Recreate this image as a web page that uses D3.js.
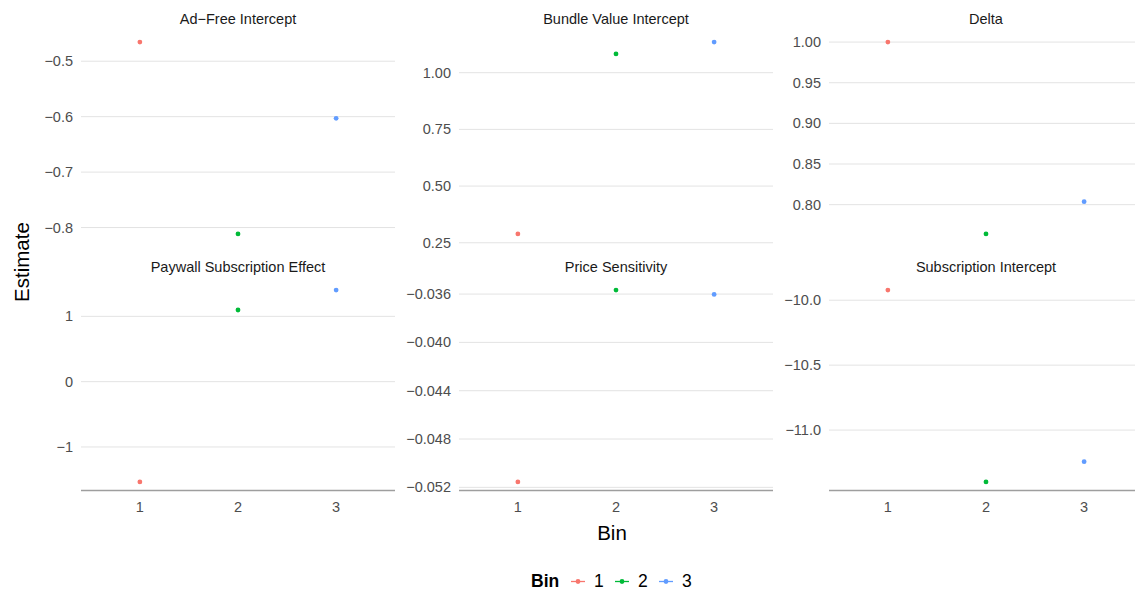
<!DOCTYPE html>
<html>
<head>
<meta charset="utf-8">
<script src="https://cdn.jsdelivr.net/npm/d3@7.9.0/dist/d3.min.js"></script>
<style>
  body { margin: 0; background: #fff; }
  svg { display: block; font-family: "Liberation Sans", Arial, sans-serif; }
</style>
</head>
<body>
<svg id="chart" width="1135" height="593"></svg>
<script>
// ---- data ----
const bins = ['1', '2', '3'];
const binColors = ['#F8766D', '#00BA38', '#619CFF'];

const panelNames = [
  'Ad\u2212Free Intercept', 'Bundle Value Intercept', 'Delta',
  'Paywall Subscription Effect', 'Price Sensitivity', 'Subscription Intercept'
];

const adFreeValues = [-0.4655, -0.8115, -0.603];
const bundleValues = [0.289, 1.083, 1.135];
const deltaValues = [1.000, 0.764, 0.8037];
const paywallValues = [-1.535, 1.097, 1.402];
const priceValues = [-0.05155, -0.03567, -0.03603];
const subscriptionValues = [-9.922, -11.399, -11.243];

const adFreeTicks = [-0.8, -0.7, -0.6, -0.5];
const bundleTicks = [0.25, 0.50, 0.75, 1.00];
const deltaTicks = [0.80, 0.85, 0.90, 0.95, 1.00];
const paywallTicks = [-1, 0, 1];
const priceTicks = [-0.052, -0.048, -0.044, -0.040, -0.036];
const subscriptionTicks = [-11.0, -10.5, -10.0];

const panelValues = [adFreeValues, bundleValues, deltaValues, paywallValues, priceValues, subscriptionValues];
const panelTicks = [adFreeTicks, bundleTicks, deltaTicks, paywallTicks, priceTicks, subscriptionTicks];
const panelFormats = ['.1f', '.2f', '.2f', 'd', '.3f', '.1f'];

// ---- layout ----
const colLeft = [81, 459, 829];
const rowTop = [32.5, 280.5];
const panelW = 314;
const panelH = 211;

const svg = d3.select('#chart');
const color = d3.scaleOrdinal().domain(bins).range(binColors);

// discrete x: ggplot pads 0.6 of a step on each side
const x = d3.scalePoint().domain(bins).range([0, panelW]).padding(0.6);

panelNames.forEach((name, i) => {
  const col = i % 3;
  const row = Math.floor(i / 3);
  const g = svg.append('g')
    .attr('transform', `translate(${colLeft[col]},${rowTop[row]})`);

  const vals = panelValues[i];
  const [lo, hi] = d3.extent(vals);
  const pad = (hi - lo) * 0.05;
  const y = d3.scaleLinear().domain([lo - pad, hi + pad]).range([panelH, 0]);
  const fmt = d3.format(panelFormats[i]);

  // gridlines
  g.selectAll('line.grid')
    .data(panelTicks[i])
    .join('line')
    .attr('class', 'grid')
    .attr('x1', 0).attr('x2', panelW)
    .attr('y1', (d) => y(d)).attr('y2', (d) => y(d))
    .attr('stroke', '#e3e3e3')
    .attr('stroke-width', 1);

  // y tick labels
  g.selectAll('text.ytick')
    .data(panelTicks[i])
    .join('text')
    .attr('class', 'ytick')
    .attr('x', -8)
    .attr('y', (d) => y(d))
    .attr('dy', '0.35em')
    .attr('text-anchor', 'end')
    .attr('font-size', '14.5px')
    .attr('fill', '#4d4d4d')
    .text((d) => fmt(d));

  // strip title
  g.append('text')
    .attr('x', panelW / 2)
    .attr('y', -8.5)
    .attr('text-anchor', 'middle')
    .attr('font-size', '14.5px')
    .attr('fill', '#1a1a1a')
    .text(name);

  // bottom row: axis line + x ticks
  if (row === 1) {
    g.append('line')
      .attr('x1', 0).attr('x2', panelW)
      .attr('y1', panelH - 1).attr('y2', panelH - 1)
      .attr('stroke', '#9e9e9e')
      .attr('stroke-width', 1.3);

    g.selectAll('text.xtick')
      .data(bins)
      .join('text')
      .attr('class', 'xtick')
      .attr('x', (d) => x(d))
      .attr('y', panelH + 20)
      .attr('text-anchor', 'middle')
      .attr('font-size', '14.5px')
      .attr('fill', '#4d4d4d')
      .text((d) => d);
  }

  // points
  g.selectAll('circle')
    .data(bins.map((b, k) => ({ bin: b, value: vals[k] })))
    .join('circle')
    .attr('cx', (d) => x(d.bin))
    .attr('cy', (d) => y(d.value))
    .attr('r', 2.4)
    .attr('fill', (d) => color(d.bin));
});

// ---- axis titles ----
const plotCenterX = (colLeft[0] + colLeft[2] + panelW) / 2;
const plotCenterY = (rowTop[0] + rowTop[1] + panelH) / 2;

svg.append('text')
  .attr('x', plotCenterX)
  .attr('y', 540)
  .attr('text-anchor', 'middle')
  .attr('font-size', '20.5px')
  .attr('fill', '#000')
  .text('Bin');

svg.append('text')
  .attr('transform', `translate(29,${plotCenterY}) rotate(-90)`)
  .attr('text-anchor', 'middle')
  .attr('font-size', '20.5px')
  .attr('fill', '#000')
  .text('Estimate');

// ---- legend ----
const legend = svg.append('g').attr('transform', 'translate(531,587)');
legend.append('text')
  .attr('x', 0).attr('y', 0)
  .attr('font-size', '17.5px')
  .attr('font-weight', 'bold')
  .text('Bin');

const keyX = d3.scalePoint().domain(bins).range([47, 135]);
const keys = legend.selectAll('g.key')
  .data(bins)
  .join('g')
  .attr('class', 'key')
  .attr('transform', (d) => `translate(${keyX(d)},-5.5)`);

keys.append('line')
  .attr('x1', -7).attr('x2', 7)
  .attr('stroke', (d) => color(d))
  .attr('stroke-width', 1.3);
keys.append('circle')
  .attr('r', 2.4)
  .attr('fill', (d) => color(d));
keys.append('text')
  .attr('x', 16)
  .attr('y', 5.5)
  .attr('font-size', '17.5px')
  .text((d) => d);
</script>
</body>
</html>
